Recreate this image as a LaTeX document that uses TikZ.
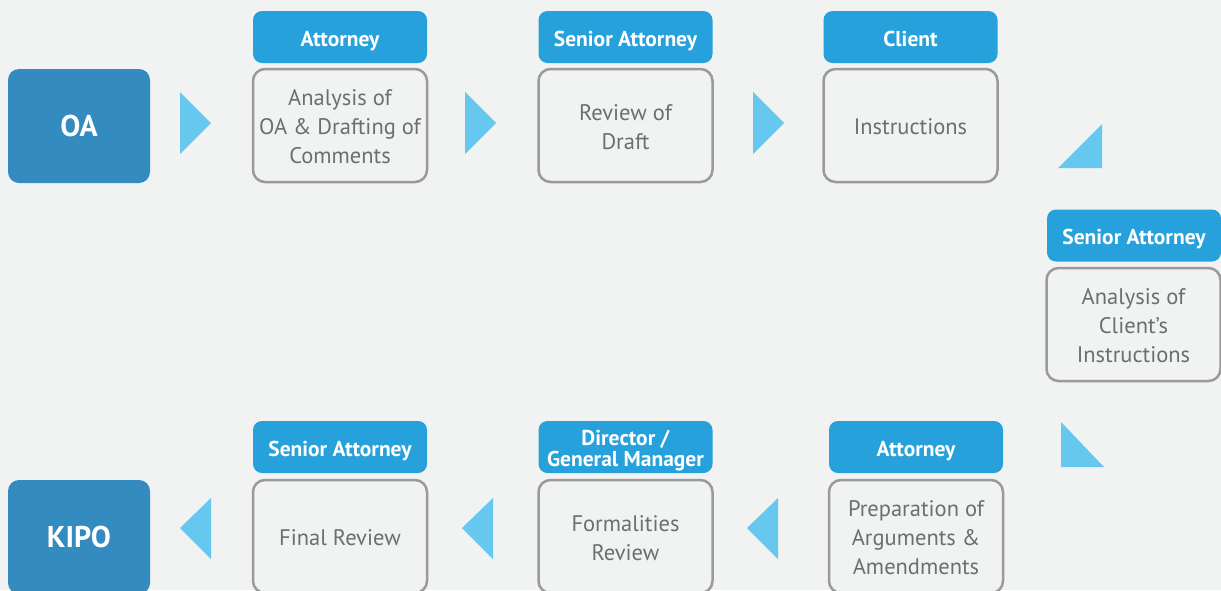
\documentclass[tikz,border=0pt]{standalone}
\usepackage{fontspec}
\setmainfont{PT Sans}
\definecolor{bg}{HTML}{F1F2F2}
\definecolor{hdr}{HTML}{27A1DB}
\definecolor{endc}{HTML}{348BBF}
\definecolor{tri}{HTML}{66C8EE}
\definecolor{bord}{HTML}{9A9A9A}
\definecolor{txt}{HTML}{6D6E71}
\newcommand\hdrtxt[1]{\raisebox{-4pt}[0.7em][0.2em]{#1}}
\newcommand\steptxt[1]{\raisebox{0pt}[20pt][\dimexpr\depth-7.5pt\relax]{\begin{tabular}[t]{@{}c@{}}#1\end{tabular}}}
\tikzset{
  hdrbox/.style={rounded corners=9pt, fill=hdr, text=white, inner sep=0pt,
    minimum width=174pt, minimum height=52pt,
    font=\bfseries\fontsize{21.5}{22}\selectfont},
  stepbox/.style={rounded corners=12pt, draw=bord, line width=2.5pt, fill=bg, text=txt,
    inner sep=0pt, minimum width=174pt, minimum height=113pt,
    font=\fontsize{22.5}{29}\selectfont},
  endbox/.style={rounded corners=11pt, fill=endc, text=white, inner sep=0pt,
    minimum width=142pt, minimum height=114pt,
    font=\bfseries\fontsize{30}{31}\selectfont},
  tribox/.style={fill=tri}
}
\begin{document}
\begin{tikzpicture}[x=1pt,y=-1pt]
\fill[bg] (0,0) rectangle (1221,590);
\useasboundingbox (0,0) rectangle (1221,590);
% top row
\node[endbox] (oa) at (79,126) {OA};
\node[hdrbox] (h1) at (340,37) {\hdrtxt{Attorney}};
\node[stepbox] (s1) at (340,125.5) {\steptxt{Analysis of\\OA \& Drafting of\\Comments}};
\node[hdrbox] (h2) at (625.5,37) {\hdrtxt{Senior Attorney}};
\node[stepbox] (s2) at (625.5,125.5) {\steptxt{Review of\\Draft}};
\node[hdrbox] (h3) at (910.5,37) {\hdrtxt{Client}};
\node[stepbox] (s3) at (910.5,125.5) {\steptxt{Instructions}};
% right column
\node[hdrbox] (h4) at (1134,235.5) {\hdrtxt{Senior Attorney}};
\node[stepbox] (s4) at (1133.5,324.5) {\steptxt{Analysis of\\Client’s\\Instructions}};
% bottom row
\node[hdrbox] (h5) at (916,447) {\hdrtxt{Attorney}};
\node[stepbox] (s5) at (916,536.5) {\steptxt{Preparation of\\Arguments \&\\Amendments}};
\node[hdrbox, font=\bfseries\fontsize{21.5}{18}\selectfont] (h6) at (625.5,447)
  {\raisebox{0pt}[12pt][14.5pt]{\begin{tabular}[t]{@{}c@{}}Director /\\General Manager\end{tabular}}};
\node[stepbox] (s6) at (625.5,536.5) {\steptxt{Formalities\\Review}};
\node[hdrbox] (h7) at (340,447) {\hdrtxt{Senior Attorney}};
\node[stepbox] (s7) at (340,536.5) {\steptxt{Final Review}};
\node[endbox] (kipo) at (79,537) {KIPO};
% arrows (triangles)
\fill[tribox] (180,92) -- (211,123) -- (180,154) -- cycle;
\fill[tribox] (465,92) -- (496,123) -- (465,154) -- cycle;
\fill[tribox] (753,92) -- (784,123) -- (753,154) -- cycle;
\fill[tribox] (1058,168) -- (1102,124) -- (1102,168) -- cycle;
\fill[tribox] (1061,422) -- (1061,467) -- (1104,467) -- cycle;
\fill[tribox] (747,528) -- (778,498) -- (778,559) -- cycle;
\fill[tribox] (462,528) -- (493,498) -- (493,559) -- cycle;
\fill[tribox] (180,528) -- (211,498) -- (211,559) -- cycle;
\end{tikzpicture}
\end{document}
